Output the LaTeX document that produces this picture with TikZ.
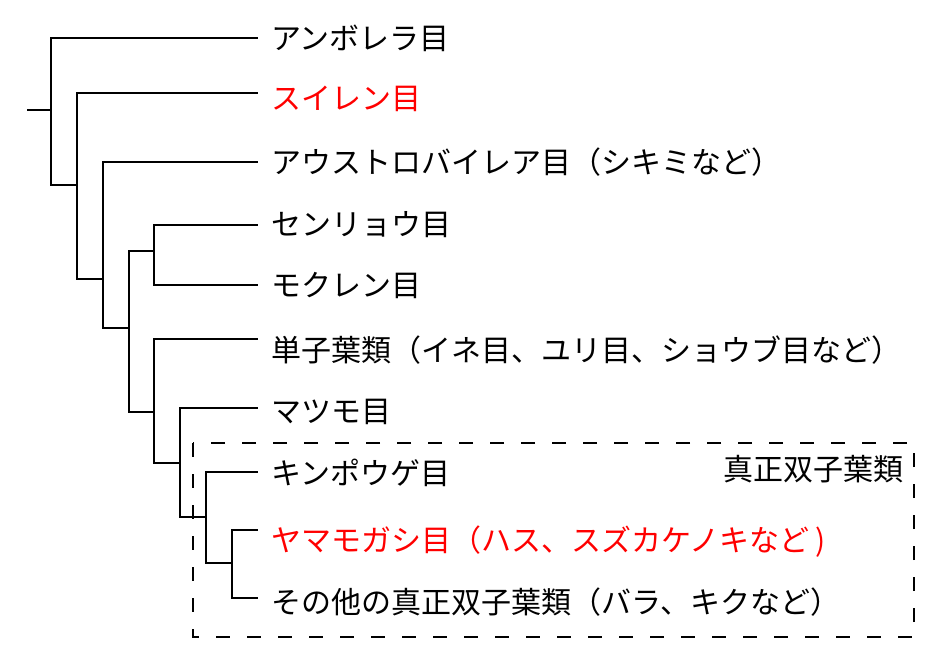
\documentclass[tikz,border=0pt]{standalone}
\usepackage{fontspec}
\newfontfamily\jp{Noto Sans CJK JP}

\begin{document}
\begin{tikzpicture}[x = 1pt, y = -1pt, line width = 2pt,
	leaf/.style = {anchor = west, inner sep = 0pt,
		text height = 24pt, text depth = 2pt, font = \jp\fontsize{30}{30}\selectfont},
	hl/.style = {text = red},
	clade/.style = {line width = 1.3pt, dash pattern = on 14pt off 17pt}]
	\useasboundingbox (0,0) rectangle (935,660);

	\draw[color = black]
	(258,38) coordinate(AMB) (270,38.5) node[leaf](AMBt){アンボレラ目}
	(258,93) coordinate(NYM) (270,99) node[leaf, hl](NYMt){スイレン目}
	(258,162) coordinate(AUS) (270,162.5) node[leaf](AUSt){アウストロバイレア目（シキミなど）}
	(258,225) coordinate(CHL) (270,225) node[leaf](CHLt){センリョウ目}
	(258,285) coordinate(MAG) (270,286) node[leaf](MAGt){モクレン目}
	(258,339) coordinate(MON) (270,351) node[leaf](MONt){単子葉類（イネ目、ユリ目、ショウブ目など）}
	(258,408) coordinate(CER) (270,412) node[leaf](CERt){マツモ目}
	(258,472) coordinate(RAN) (270,473.5) node[leaf](RANt){キンポウゲ目}
	(258,530) coordinate(PRO) (270,540) node[leaf, hl](PROt){ヤマモガシ目（ハス、スズカケノキなど )}
	(258,598) coordinate(EUD) (270,602) node[leaf](EUDt){その他の真正双子葉類（バラ、キクなど）}

	(27,110) coordinate(R) (51,110) coordinate(N1)
	(77,185) coordinate(N2) (103,279) coordinate(N3)
	(154,251) coordinate(N4) (129,328) coordinate(N5)
	(154,412) coordinate(N6) (180,463) coordinate(N7)
	(206,517) coordinate(N8) (232,563) coordinate(N9)

	(R) -- (N1) |- (AMB)
	(N1) |- (N2) |- (NYM)
	(N2) |- (N3) |- (AUS)
	(N3) |- (N5) |- (N4) |- (CHL)
	(N4) |- (MAG)
	(N5) |- (N6) |- (MON)
	(N6) |- (N7) |- (CER)
	(N7) |- (N8) |- (RAN)
	(N8) |- (N9) |- (PRO)
	(N9) |- (EUD);

	\coordinate (BOXA) at (193,443);
	\coordinate (BOXB) at (914,637);
	\draw[clade] (BOXA) rectangle (BOXB);
	\node[leaf, anchor = east] (LBL) at (904,469.5) {真正双子葉類};
\end{tikzpicture}
\end{document}
